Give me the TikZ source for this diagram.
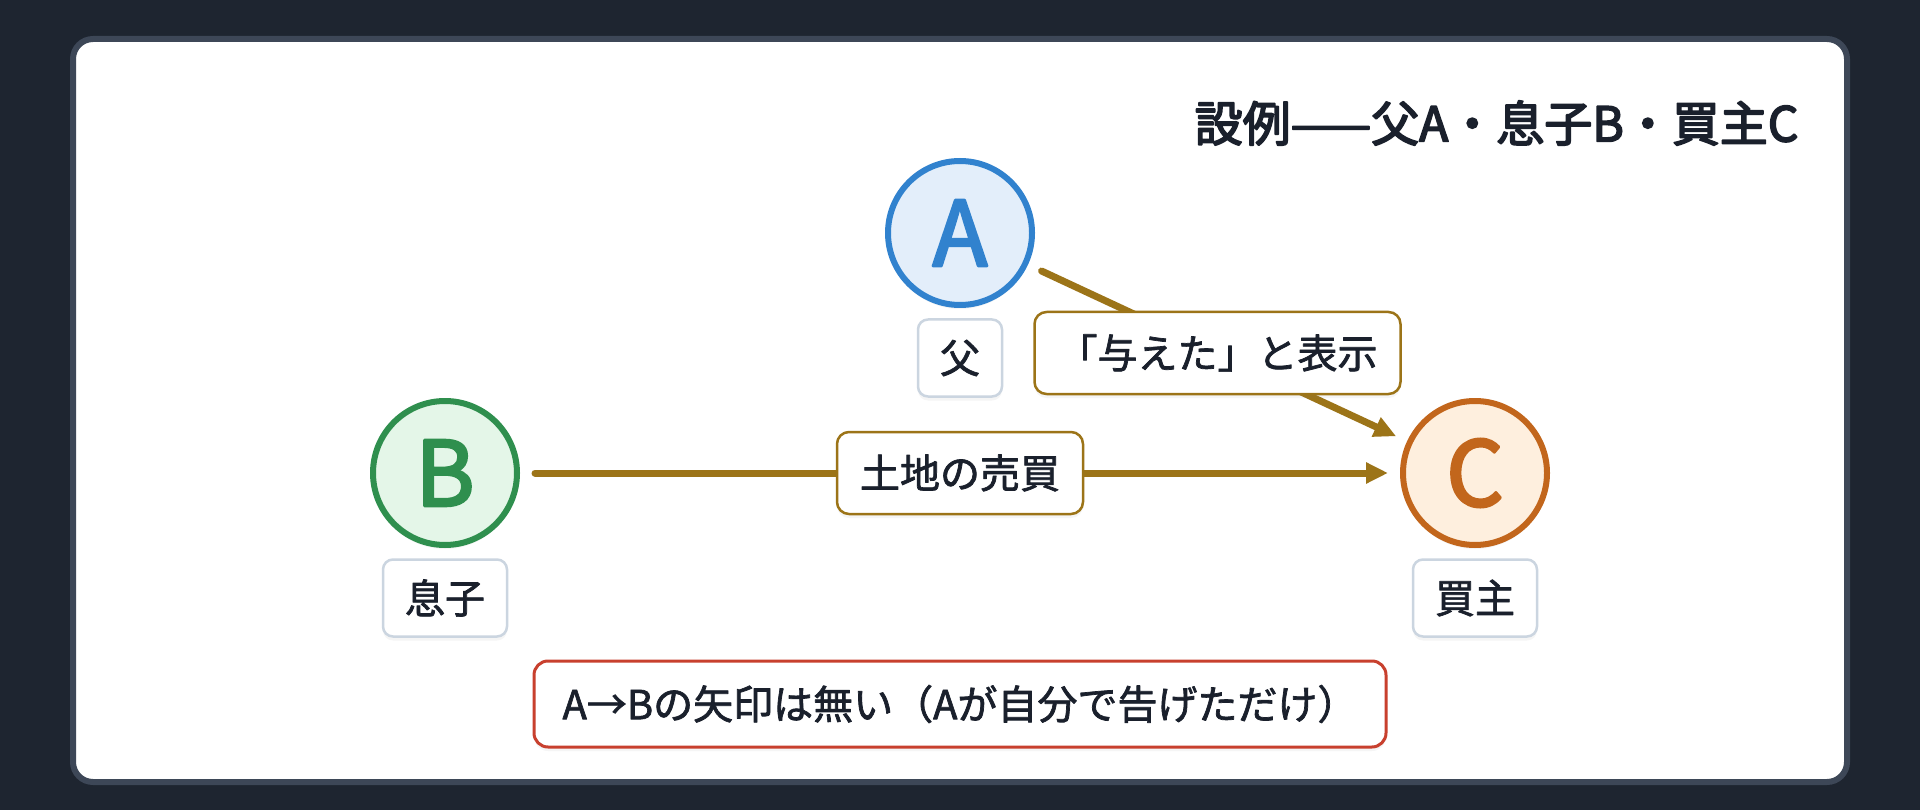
\documentclass[tikz,border=0pt]{standalone}
\usepackage{fontspec}
\setmainfont{Noto Sans CJK JP}
\newfontfamily\labelfont[FakeBold=1.8]{Noto Sans CJK JP}
\newfontfamily\headfont[FakeBold=3.5]{Noto Sans CJK JP}
\newfontfamily\letterfont[FakeBold=3]{Noto Sans CJK JP}
\usetikzlibrary{arrows.meta,shadows}
\definecolor{bgdark}{HTML}{1E2530}
\definecolor{cardline}{HTML}{3D4757}
\definecolor{ink}{HTML}{1A202C}
\definecolor{blueline}{HTML}{3182CE}
\definecolor{bluefill}{HTML}{E3EEFA}
\definecolor{greenline}{HTML}{2F8F4E}
\definecolor{greenfill}{HTML}{E4F6E8}
\definecolor{orangeline}{HTML}{C2661C}
\definecolor{orangefill}{HTML}{FEEFDE}
\definecolor{tagline}{HTML}{CBD5E0}
\definecolor{linkgold}{HTML}{9C7418}
\definecolor{notered}{HTML}{C8402E}
\begin{document}
\begin{tikzpicture}[x=1pt,y=-1pt,line join=round,line cap=round,
  softshadow/.style={drop shadow={opacity=0.08,shadow xshift=0pt,shadow yshift=-4pt}},
  person/.style={circle,minimum size=144pt,line width=6pt,softshadow,
    font=\letterfont\fontsize{90}{90}\selectfont},
  tag/.style={draw=tagline,fill=white,line width=2.5pt,rounded corners=10pt,softshadow,
    minimum height=77pt,inner xsep=22pt,text=ink,font=\labelfont\fontsize{40}{48}\selectfont},
  deal/.style={draw=linkgold,fill=white,line width=2.5pt,rounded corners=12pt,softshadow,
    minimum height=82pt,inner xsep=23pt,text=ink,font=\labelfont\fontsize{40}{48}\selectfont},
  notebox/.style={draw=notered,fill=white,line width=3pt,rounded corners=14pt,softshadow,
    minimum width=852pt,minimum height=86pt,text=ink,font=\labelfont\fontsize{40}{48}\selectfont},
  link/.style={draw=linkgold,line width=7pt,-{Triangle[length=22pt,width=20pt]},
    shorten <=15pt,shorten >=12pt}]
\useasboundingbox (0,0) rectangle (1920,810);
\fill[bgdark] (0,0) rectangle (1920,810);
\draw[cardline,line width=6pt,fill=white,rounded corners=20pt] (73,39) rectangle (1847,782);
% title
\node[anchor=east,text=ink,font=\headfont\fontsize{48}{56}\selectfont] (title) at (1802,123) {設例——父A・息子B・買主C};
% persons
\node[person,draw=blueline,fill=bluefill,text=blueline] (A) at (960,233) {A};
\node[person,draw=greenline,fill=greenfill,text=greenline] (B) at (445,473) {B};
\node[person,draw=orangeline,fill=orangefill,text=orangeline] (C) at (1475,473) {C};
\node[tag] (father) at (960,358) {父};
\node[tag] (son) at (445,598) {息子};
\node[tag] (buyer) at (1475,598) {買主};
% links
\draw[link] (B) -- node[deal] (sale) {土地の売買} (C);
\draw[link] (A) -- node[deal] (claim) {「与えた」と表示} (C);
\node[notebox] (note) at (960,704) {A→Bの矢印は無い（Aが自分で告げただけ）};
\end{tikzpicture}
\end{document}
